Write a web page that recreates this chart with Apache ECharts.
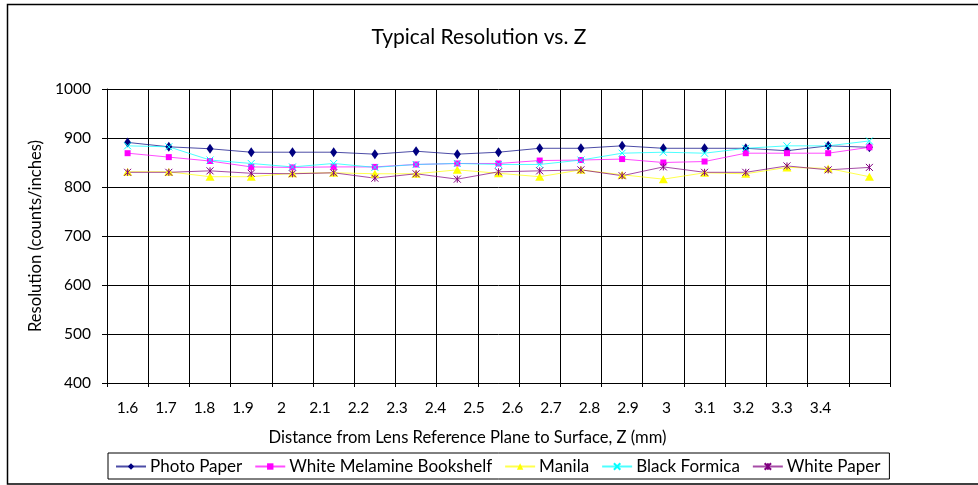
<!DOCTYPE html>
<html>
<head>
<meta charset="utf-8">
<script src="https://cdn.jsdelivr.net/npm/echarts@6/dist/echarts.min.js"></script>
<style>
html,body{margin:0;padding:0;background:#fff;}
#chart{width:978px;height:485px;}
</style>
</head>
<body>
<div id="chart"></div>
<script>
// Distance categories (mm)
const categories = ['1.6','1.7','1.8','1.9','2','2.1','2.2','2.3','2.4','2.5','2.6','2.7','2.8','2.9','3','3.1','3.2','3.3','3.4'];
const tickLabels = ['1.6','1.7','1.8','1.9','2','2.1','2.2','2.3','2.4','2.5','2.6','2.7','2.8','2.9','3','3.1','3.2','3.3','3.4'];
const yTicks = [400, 500, 600, 700, 800, 900, 1000];

const photoPaper      = [891, 882, 878, 871, 871, 871, 867, 873, 867, 871, 879, 879, 884, 879, 879, 879, 874, 884, 881];
const whiteMelamine   = [869, 861, 853, 841, 840, 841, 841, 846, 848, 848, 854, 855, 857, 850, 852, 869, 869, 869, 881];
const manila          = [831, 831, 821, 821, 828, 829, 827, 827, 835, 828, 821, 835, 825, 816, 829, 827, 840, 838, 821];
const blackFormica    = [884, 882, 855, 848, 841, 848, 840, 846, 848, 846, 846, 855, 869, 871, 869, 879, 884, 884, 894];
const whitePaper      = [830, 830, 833, 828, 827, 829, 818, 827, 816, 831, 833, 835, 823, 841, 830, 830, 843, 835, 840];

const FONT = 'Lato';
const chart = echarts.init(document.getElementById('chart'));

function mk(name, data, color, symbol, size) {
  return {
    name: name, type: 'line', data: data, xAxisIndex: 0,
    symbol: symbol, symbolSize: size, showAllSymbol: true,
    lineStyle: { color: color, width: 1, opacity: 0.7 },
    itemStyle: { color: color, borderColor: color, borderWidth: symbol.indexOf('path') === 0 ? 1 : 0 },
    emphasis: { disabled: true },
    animation: false
  };
}

// label axis: value axis aligned so that labels sit as in the reference
const lblMin = 1.5468, lblMax = 3.5806;

chart.setOption({
  animation: false,
  backgroundColor: '#fff',
  textStyle: { fontFamily: FONT, color: '#000' },
  title: {
    text: 'Typical Resolution vs. Z',
    left: 474, top: 22, textAlign: 'center',
    textStyle: { fontFamily: FONT, fontSize: 21, fontWeight: 'normal', color: '#000' }
  },
  graphic: [{
    type: 'rect', shape: { x: 7.5, y: 4.5, width: 1000, height: 479.5 },
    style: { fill: 'none', stroke: '#000', lineWidth: 1.5 }, silent: true, z: -1
  }],
  legend: {
    left: 108, top: 453, orient: 'horizontal',
    borderColor: '#000', borderWidth: 1, borderRadius: 0,
    padding: [5, 9, 4, 7],
    itemWidth: 30, itemHeight: 8, itemGap: 12,
    textStyle: { fontFamily: FONT, fontSize: 17, color: '#000', padding: [0, 0, 0, -1] },
    data: ['Photo Paper', 'White Melamine Bookshelf', 'Manila', 'Black Formica', 'White Paper']
  },
  grid: { left: 107, right: 88, top: 89, bottom: 102, containLabel: false },
  xAxis: [{
    type: 'category', data: categories, boundaryGap: true, position: 'bottom',
    name: 'Distance from Lens Reference Plane to Surface, Z (mm)',
    nameLocation: 'middle', nameGap: 46,
    nameTextStyle: { fontFamily: FONT, fontSize: 16.6, color: '#000', padding: [0, 62, 0, 0] },
    axisLine: { lineStyle: { color: '#000', width: 1 } },
    axisTick: { show: true, inside: false, length: 4, alignWithLabel: false, lineStyle: { color: '#000' } },
    axisLabel: { show: false },
    splitLine: { show: true, lineStyle: { color: '#000', width: 1 } }
  }, {
    type: 'value', position: 'bottom', min: lblMin, max: lblMax,
    axisLine: { show: false }, axisTick: { show: false }, splitLine: { show: false },
    axisLabel: {
      show: true, margin: 17, fontFamily: FONT, fontSize: 15.5, color: '#000',
      customValues: tickLabels.map(Number),
      formatter: function (v) { return String(Math.round(v * 10) / 10); },
      showMinLabel: true, showMaxLabel: true
    }
  }],
  yAxis: {
    type: 'value', min: 400, max: 1000, interval: 100,
    name: 'Resolution (counts/inches)', nameLocation: 'middle', nameRotate: 90, nameGap: 54,
    nameTextStyle: { fontFamily: FONT, fontSize: 16.6, color: '#000' },
    axisLine: { show: true, lineStyle: { color: '#000', width: 1 } },
    axisTick: { show: true, inside: false, length: 5, lineStyle: { color: '#000' } },
    axisLabel: { margin: 16, fontFamily: FONT, fontSize: 15.5, color: '#000',
      customValues: yTicks, formatter: function (v) { return String(v); } },
    splitLine: { show: true, lineStyle: { color: '#000', width: 1 } }
  },
  series: [
    mk('Photo Paper', photoPaper, '#000080', 'diamond', [7, 10]),
    mk('White Melamine Bookshelf', whiteMelamine, '#FF00FF', 'rect', 6),
    mk('Manila', manila, '#FFFF00', 'triangle', [9, 8]),
    mk('Black Formica', blackFormica, '#00FFFF', 'path://M0,0L10,10M10,0L0,10', 7),
    mk('White Paper', whitePaper, '#800080', 'path://M0,0L10,10M10,0L0,10M5,0L5,10', 7)
  ]
});
</script>
</body>
</html>
